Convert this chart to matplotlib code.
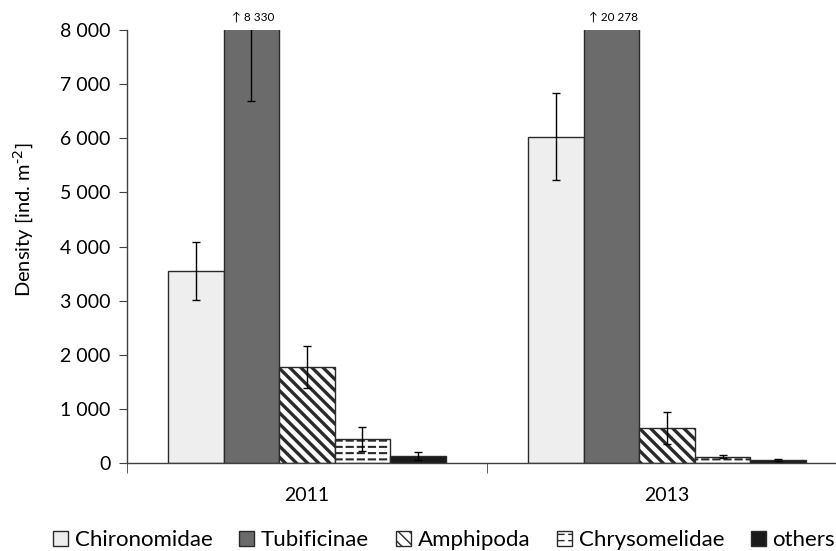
import warnings
warnings.filterwarnings("ignore")
import numpy as np
import matplotlib
matplotlib.use("Agg")
import matplotlib.pyplot as plt
from matplotlib import hatch as mhatch
from matplotlib.path import Path
from matplotlib.ticker import FuncFormatter, FixedLocator
from matplotlib.patches import Patch

# ---------------- data ----------------
years = ["2011", "2013"]
taxa = ["Chironomidae", "Tubificinae", "Amphipoda", "Chrysomelidae", "others"]
chironomidae = [3550, 6030]
tubificinae = [8330, 20278]
amphipoda = [1780, 650]
chrysomelidae = [450, 115]
others = [130, 50]
err_chironomidae = [540, 800]
err_tubificinae = [1650, 3000]
err_amphipoda = [390, 300]
err_chrysomelidae = [220, 30]
err_others = [70, 15]
y_ticks = [0, 1000, 2000, 3000, 4000, 5000, 6000, 7000, 8000]
y_max = 8000

values = [chironomidae, tubificinae, amphipoda, chrysomelidae, others]
errors = [err_chironomidae, err_tubificinae, err_amphipoda, err_chrysomelidae, err_others]

# ---------------- custom hatches ----------------
class DashHatch(mhatch.HatchPatternBase):
    """horizontal dashed lines, char 'a'"""
    def __init__(self, hatch, density):
        n = hatch.count('a')
        self.rows = int(n * 16) if n else 0
        self.dashes = 9
        self.num_vertices = self.rows * self.dashes * 2

    def set_vertices_and_codes(self, vertices, codes):
        k = 0
        for i in range(self.rows):
            y = (i + 0.5) / self.rows
            for j in range(self.dashes):
                x0 = (j + 0.2) / self.dashes
                vertices[k] = (x0, y)
                vertices[k + 1] = (x0 + 0.55 / self.dashes, y)
                codes[k] = Path.MOVETO
                codes[k + 1] = Path.LINETO
                k += 2


class SEHatch(mhatch.HatchPatternBase):
    """south-east diagonals, char 'b' (even count for seamless tiling)"""
    def __init__(self, hatch, density):
        n = hatch.count('b')
        self.num_lines = int(n * 18) if n else 0
        self.num_vertices = (self.num_lines + 1) * 2 if self.num_lines else 0

    def set_vertices_and_codes(self, vertices, codes):
        steps = np.linspace(-0.5, 0.5, self.num_lines + 1)
        vertices[0::2, 0] = 0.0 + steps
        vertices[0::2, 1] = 1.0 + steps
        vertices[1::2, 0] = 1.0 + steps
        vertices[1::2, 1] = 0.0 + steps
        codes[0::2] = Path.MOVETO
        codes[1::2] = Path.LINETO

mhatch._hatch_types.extend([DashHatch, SEHatch])

# ---------------- style ----------------
font = ["Lato", "DejaVu Sans"]
plt.rcParams['font.family'] = font
face = ["#eeeeee", "#6b6b6b", "white", "white", "#1a1a1a"]
hatches = [None, None, "b", "a", None]
hatch_lw = [1.0, 1.0, 2.4, 1.5, 1.0]
edge = "#2a2a2a"

W, H = 837, 551
fig = plt.figure(figsize=(W / 100, H / 100), dpi=100)
ax = fig.add_axes([127 / W, 1 - 463 / H, 720 / W, 433 / H])

x = np.arange(len(years))
bw = 55.5 / 360
offsets = (np.arange(len(taxa)) - 2) * bw

handles = []
for i, t in enumerate(taxa):
    with plt.rc_context({'hatch.linewidth': hatch_lw[i], 'hatch.color': 'black'}):
        ax.bar(x + offsets[i], values[i], width=bw, color=face[i],
               edgecolor=edge, linewidth=1.0, hatch=hatches[i], zorder=2)
        handles.append(Patch(facecolor=face[i], edgecolor=edge, linewidth=1.0,
                             hatch=hatches[i], label=t))
    ax.errorbar(x + offsets[i], values[i], yerr=errors[i], fmt='none',
                ecolor='black', elinewidth=1.0, capsize=3, capthick=1.0, zorder=3)
    for xi, v in zip(x + offsets[i], values[i]):
        if v > y_max:
            lbl = "↑ " + f"{v:,}".replace(",", " ")
            ax.annotate(lbl, xy=(xi, y_max), xytext=(1.5, 5), textcoords="offset points",
                        ha="center", va="bottom", fontsize=8.5, family=font,
                        annotation_clip=False)

ax.set_ylim(0, y_max)
ax.set_xlim(-0.5, len(years) - 0.5)
ax.yaxis.set_major_locator(FixedLocator(y_ticks))
ax.yaxis.set_major_formatter(FuncFormatter(lambda v, p: f"{int(v):,}".replace(",", " ")))
ax.set_xticks(x)
ax.set_xticklabels(years)
ax.set_xticks(np.arange(len(years) + 1) - 0.5, minor=True)
ax.tick_params(axis='x', which='major', length=0, pad=17, labelsize=14)
ax.tick_params(axis='x', which='minor', length=7, direction='out', color='#404040')
ax.tick_params(axis='y', length=6, direction='out', labelsize=14, color='#404040', pad=6)
for s in ["top", "right"]:
    ax.spines[s].set_visible(False)
for s in ["left", "bottom"]:
    ax.spines[s].set_color("#404040")
    ax.spines[s].set_linewidth(1.0)
ax.set_ylabel(r"Density [ind. m$^{\text{-}2}$]", fontsize=14.5)
ax.yaxis.set_label_coords((36 - 127) / 720, (463 - 220) / 433)

fig.legend(handles=handles, loc="center left", bbox_to_anchor=(53 / W, 1 - 540 / H),
           ncol=5, frameon=False, fontsize=16, handlelength=0.68, handleheight=0.68,
           handletextpad=0.3, columnspacing=1.2, borderpad=0, borderaxespad=0)

fig.savefig("out.png", dpi=100)
